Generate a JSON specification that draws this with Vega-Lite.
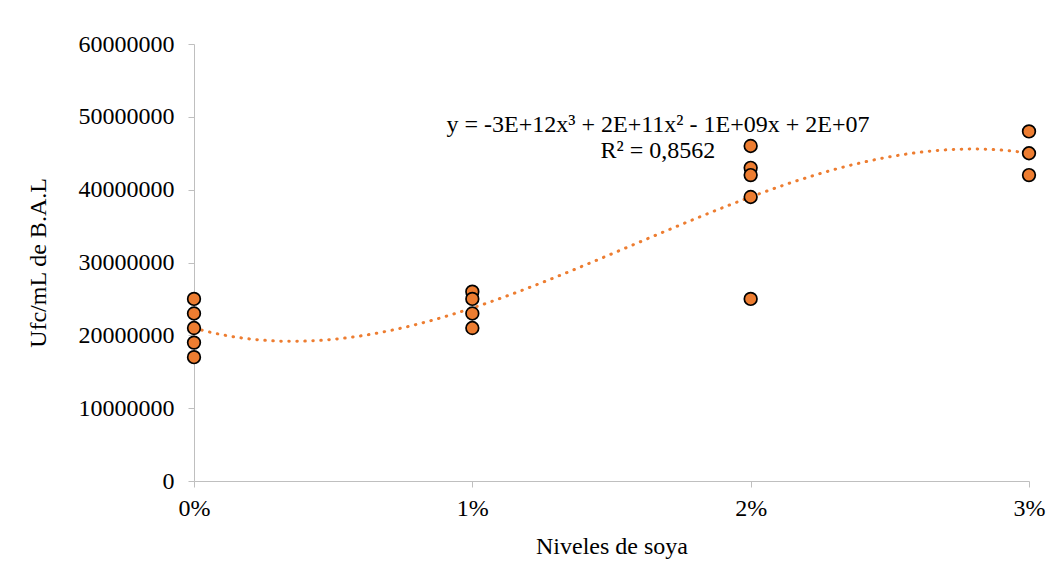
{
  "$schema": "https://vega.github.io/schema/vega-lite/v6.json",
  "width": 835,
  "height": 437,
  "autosize": {"type": "none"},
  "padding": {"left": 194, "top": 44, "right": 33, "bottom": 99},
  "background": "white",
  "config": {
    "view": {"stroke": null},
    "font": "Liberation Serif",
    "axis": {
      "domainColor": "#bfbfbf",
      "tickColor": "#bfbfbf",
      "grid": false,
      "labelColor": "#000000",
      "titleColor": "#000000",
      "labelFont": "Liberation Serif",
      "titleFont": "Liberation Serif",
      "labelFontSize": 24,
      "titleFontSize": 24,
      "titleFontWeight": "normal",
      "tickSize": 6
    }
  },
  "data": {
    "values": [
      {"nivel": 0.00, "ufc": 25000000},
      {"nivel": 0.00, "ufc": 23000000},
      {"nivel": 0.00, "ufc": 21000000},
      {"nivel": 0.00, "ufc": 19000000},
      {"nivel": 0.00, "ufc": 17000000},
      {"nivel": 0.01, "ufc": 26000000},
      {"nivel": 0.01, "ufc": 25000000},
      {"nivel": 0.01, "ufc": 23000000},
      {"nivel": 0.01, "ufc": 21000000},
      {"nivel": 0.02, "ufc": 46000000},
      {"nivel": 0.02, "ufc": 43000000},
      {"nivel": 0.02, "ufc": 42000000},
      {"nivel": 0.02, "ufc": 39000000},
      {"nivel": 0.02, "ufc": 25000000},
      {"nivel": 0.03, "ufc": 48000000},
      {"nivel": 0.03, "ufc": 45000000},
      {"nivel": 0.03, "ufc": 42000000}
    ]
  },
  "layer": [
    {
      "transform": [
        {"regression": "ufc", "on": "nivel", "method": "poly", "order": 3, "extent": [0, 0.03]}
      ],
      "mark": {"type": "line", "color": "#ED7D31", "strokeWidth": 3, "strokeDash": [0.5, 7.5], "strokeCap": "round", "interpolate": "monotone"},
      "encoding": {
        "x": {"field": "nivel", "type": "quantitative"},
        "y": {"field": "ufc", "type": "quantitative"}
      }
    },
    {
      "mark": {"type": "point", "shape": "circle", "filled": true, "fill": "#ED7D31", "stroke": "#000000", "strokeWidth": 1.7, "size": 160, "opacity": 1},
      "encoding": {
        "x": {
          "field": "nivel",
          "type": "quantitative",
          "scale": {"domain": [0, 0.03], "nice": false, "zero": false},
          "axis": {
            "values": [0, 0.01, 0.02, 0.03],
            "format": ".0%",
            "labelFlush": false,
            "title": "Niveles de soya",
            "labelPadding": 9,
            "titlePadding": 14
          }
        },
        "y": {
          "field": "ufc",
          "type": "quantitative",
          "scale": {"domain": [0, 60000000], "nice": false},
          "axis": {
            "values": [0, 10000000, 20000000, 30000000, 40000000, 50000000, 60000000],
            "format": "d",
            "title": "Ufc/mL de B.A.L",
            "labelPadding": 14,
            "titlePadding": 28
          }
        }
      }
    },
    {
      "data": {"values": [{"linea": "y = -3E+12x³ + 2E+11x² - 1E+09x + 2E+07", "pos": 48900000}, {"linea": "R² = 0,8562", "pos": 45300000}]},
      "mark": {"type": "text", "font": "Liberation Serif", "fontSize": 24, "color": "#000000", "align": "center", "baseline": "middle"},
      "encoding": {
        "x": {"datum": 0.01667, "type": "quantitative"},
        "y": {"field": "pos", "type": "quantitative"},
        "text": {"field": "linea"}
      }
    }
  ]
}
